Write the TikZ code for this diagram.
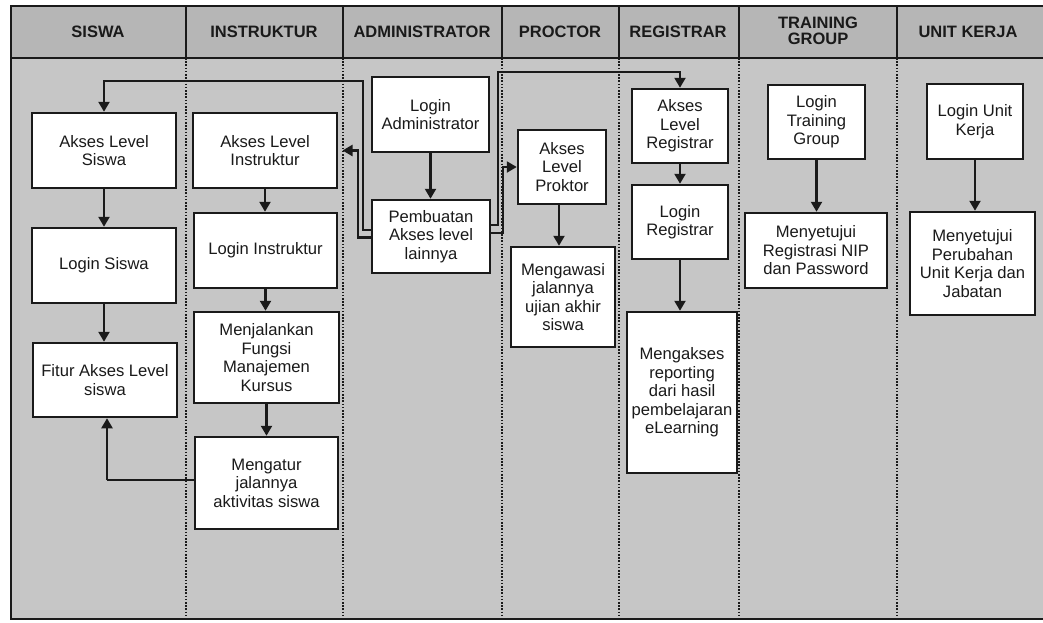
\documentclass[tikz,border=0pt]{standalone}
\usepackage{fontspec}
\setmainfont{Liberation Sans}
\usetikzlibrary{arrows.meta,calc}

\definecolor{headgray}{HTML}{B6B6B6}
\definecolor{lanegray}{HTML}{C6C6C6}
\definecolor{ink}{HTML}{1A1A1A}

\tikzset{
  frame/.style={draw=ink, line width=2.2pt},
  lanesep/.style={draw=ink, line width=1.8pt, dash pattern=on 1.6pt off 1.6pt},
  headsep/.style={draw=ink, line width=1.6pt},
  lanetitle/.style={text=ink, align=center, font=\fontsize{16.5}{16.5}\selectfont\bfseries},
  box/.style={draw=ink, line width=2.5pt, fill=white, text=ink, align=center,
    inner sep=0pt, font=\fontsize{16.6}{18.5}\selectfont},
  conn/.style={draw=ink, line width=2.3pt, -{Triangle[length=10pt,width=11pt]}},
  wire/.style={draw=ink, line width=2.3pt}
}

\begin{document}
\begin{tikzpicture}[x=1pt, y=-1pt]
\useasboundingbox (0,0) rectangle (1043,622);
\fill[white] (0,0) rectangle (1043,622);

% lanes and header band
\fill[lanegray] (11,58) rectangle (1043,619);
\fill[headgray] (11,6) rectangle (1043,58);
\draw[frame] (1043,6) -- (11,6) -- (11,619) -- (1043,619);
\draw[frame] (11,58) -- (1043,58);
\foreach \x in {186,343,502,619,739,897} {
  \draw[headsep] (\x,6) -- (\x,58);
  \draw[lanesep] (\x,58) -- (\x,619);
}

% lane titles
\node[lanetitle] (t1) at (98,32)  {SISWA};
\node[lanetitle] (t2) at (264,32) {INSTRUKTUR};
\node[lanetitle] (t3) at (422,32) {ADMINISTRATOR};
\node[lanetitle] (t4) at (560,32) {PROCTOR};
\node[lanetitle] (t5) at (678,32) {REGISTRAR};
\node[lanetitle] (t6) at (818,31) {TRAINING\\GROUP};
\node[lanetitle] (t7) at (968,32) {UNIT KERJA};

% SISWA
\node[box, minimum width=144pt, minimum height=75pt] (asis) at (104,150.5) {Akses Level\\Siswa};
\node[box, minimum width=144pt, minimum height=75pt] (lsis) at (104,265.5) {Login Siswa};
\node[box, minimum width=144pt, minimum height=74pt] (fsis) at (105,380) {Fitur Akses Level\\siswa};

% INSTRUKTUR
\node[box, minimum width=144pt, minimum height=75pt] (ains) at (265,150.5) {Akses Level\\Instruktur};
\node[box, minimum width=143pt, minimum height=75pt] (lins) at (265.5,250.5) {Login Instruktur};
\node[box, minimum width=145pt, minimum height=91pt] (mfk) at (266.5,357.5) {Menjalankan\\Fungsi\\Manajemen\\Kursus};
\node[box, minimum width=143pt, minimum height=92pt] (mat) at (266.5,483) {Mengatur\\jalannya\\aktivitas siswa};

% ADMINISTRATOR
\node[box, minimum width=117pt, minimum height=75pt] (ladm) at (430.5,114.5) {Login\\Administrator};
\node[box, minimum width=118pt, minimum height=73pt] (pal) at (431,236.5) {Pembuatan\\Akses level\\lainnya};

% PROCTOR
\node[box, minimum width=88pt, minimum height=74pt] (apro) at (562,167) {Akses\\Level\\Proktor};
\node[box, minimum width=104pt, minimum height=100pt] (mju) at (563,297) {Mengawasi\\jalannya\\ujian akhir\\siswa};

% REGISTRAR
\node[box, minimum width=96pt, minimum height=74pt] (areg) at (680,126) {Akses\\Level\\Registrar};
\node[box, minimum width=96pt, minimum height=74pt] (lreg) at (680,222) {Login\\Registrar};
\node[box, minimum width=110pt, minimum height=161pt] (mrep) at (682,392.5) {Mengakses\\reporting\\dari hasil\\pembelajaran\\eLearning};

% TRAINING GROUP
\node[box, minimum width=97pt, minimum height=74pt] (ltg) at (816.5,122) {Login\\Training\\Group};
\node[box, minimum width=142pt, minimum height=75pt] (mreg) at (816,250.5) {Menyetujui\\Registrasi NIP\\dan Password};

% UNIT KERJA
\node[box, minimum width=96pt, minimum height=75pt] (luk) at (975,121.5) {Login Unit\\Kerja};
\node[box, minimum width=125pt, minimum height=103pt] (mpuk) at (972.5,263.5) {Menyetujui\\Perubahan\\Unit Kerja dan\\Jabatan};

% flows inside each lane
\draw[conn] (asis.south) -- (lsis.north);
\draw[conn] (lsis.south) -- (lsis.south |- fsis.north);
\draw[conn] (ains.south) -- (ains.south |- lins.north);
\draw[conn] (lins.south) -- (lins.south |- mfk.north);
\draw[conn] (mfk.south) -- (mfk.south |- mat.north);
\draw[conn] (ladm.south) -- (ladm.south |- pal.north);
\draw[conn] (apro.south) ++(-3,0) coordinate (aps) -- (aps |- mju.north);
\draw[conn] (areg.south) -- (lreg.north);
\draw[conn] (lreg.south) -- (lreg.south |- mrep.north);
\draw[conn] (ltg.south) -- (ltg.south |- mreg.north);
\draw[conn] (luk.south) -- (luk.south |- mpuk.north);

% back to the student features
\coordinate (r1) at (107,480);
\draw[wire] (mat.west |- r1) -- (r1);
\draw[conn] (r1) -- (r1 |- fsis.south);

% access levels created by the administrator
\coordinate (b1) at (363,81);
\coordinate (b2) at (358,150.5);
\coordinate (b3) at (498,72);
\coordinate (b4) at (503,167);
\draw[conn] ($(pal.west)+(0,-6.5)$) -| (b1) -| (asis.north);
\draw[conn, shorten >=-0.5pt] ($(pal.west)+(0,1)$) -| (b2) -- (ains.east -| 343,0);
\draw[conn] ($(pal.east)+(0,-11.5)$) -| (b3) -| (areg.north);
\draw[conn] ($(pal.east)+(0,-3.5)$) -| (b4) -- (apro.west);
\end{tikzpicture}
\end{document}
